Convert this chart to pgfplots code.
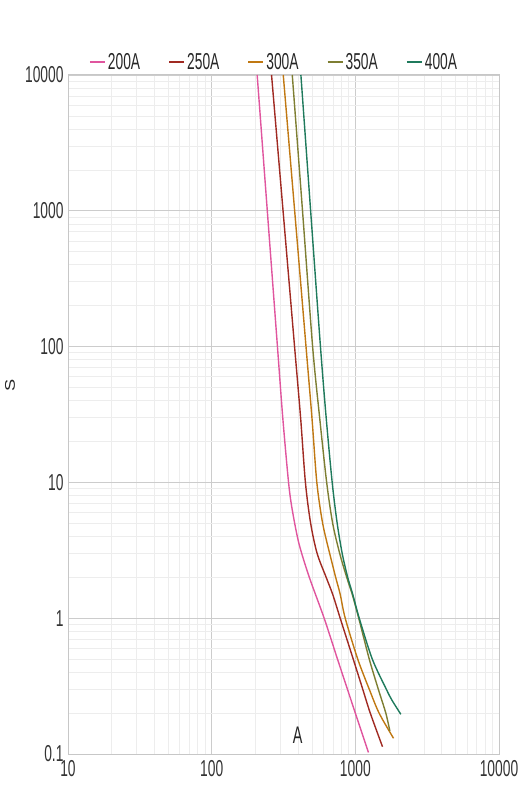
\documentclass[border=0pt]{standalone}
\usepackage{fontspec}
\setmainfont{Liberation Sans}[FakeStretch=0.6]
\newfontfamily\widefont{Liberation Sans}[FakeStretch=1.3]
\usepackage{pgfplots}
\pgfplotsset{compat=1.18}
\definecolor{c200}{HTML}{E0559E}
\definecolor{c250}{HTML}{A02A22}
\definecolor{c300}{HTML}{C07812}
\definecolor{c350}{HTML}{7E7E32}
\definecolor{c400}{HTML}{1F7A5C}
\begin{document}
\begin{tikzpicture}
\begin{axis}[
  xmode=log, ymode=log,
  scale only axis, width=431pt, height=679pt,
  xmin=10, xmax=10000, ymin=0.1, ymax=10000,
  xtick={10,100,1000,10000}, xticklabels={10,100,1000,10000},
  ytick={0.1,1,10,100,1000,10000}, yticklabels={0.1,1,10,100,1000,10000},
  grid=both,
  major grid style={color=black!20, line width=0.9pt},
  minor grid style={color=black!7, line width=0.7pt},
  axis line style={black!22, line width=1pt},
  tick style={draw=none},
  /pgf/number format/assume math mode=true,
  tick label style={font=\fontsize{23}{25}\selectfont, text=black!80},
  xticklabel style={yshift=-3pt},
  yticklabel style={xshift=-1pt},
  xlabel={A},
  every axis x label/.style={at={(rel axis cs:0.533,0.028)}, anchor=center, font=\fontsize{24}{26}\selectfont, text=black!85},
  ylabel={S},
  every axis y label/.style={at={(rel axis cs:0,0.543)}, xshift=-58pt, rotate=90, anchor=center, font=\widefont\fontsize{14}{16}\selectfont, text=black!85},
  legend columns=5,
  legend style={at={(rel axis cs:0.478,1)}, anchor=south, yshift=0pt, draw=none, fill=none,
    font=\fontsize{23}{25}\selectfont, text=black!85,
    /tikz/every even column/.append style={column sep=26pt}},
  legend image code/.code={\draw[#1, line width=2pt] (0pt,0pt) -- (15pt,0pt);},
]
\addplot[c200, line width=1.4pt, smooth, tension=0.5] coordinates {(207.4,10000) (243.9,1000) (287.0,100) (312.5,30) (342.9,10) (364.0,6.27) (404.7,3.56) (476.8,2.02) (606.7,1) (751.2,0.5) (881,0.3) (1000,0.2) (1234,0.1026)};
\addlegendentry{200A}
\addplot[c250, line width=1.4pt, smooth, tension=0.5] coordinates {(261.1,10000) (314.0,1000) (377.6,100) (415.9,30) (449.3,10) (488.5,5) (542.1,3) (626.6,2) (695.5,1.5) (784.6,1) (966.7,0.5) (1126,0.3) (1270.6,0.2) (1545.6,0.1132)};
\addlegendentry{250A}
\addplot[c300, line width=1.4pt, smooth, tension=0.5] coordinates {(315.0,10000) (378.2,1000) (453.6,100) (498.8,30) (539.5,10) (592.2,5) (662.9,3) (729.7,2) (784.6,1.5) (850.3,1) (1039.2,0.5) (1250,0.3) (1463.9,0.2) (1845,0.1305)};
\addlegendentry{300A}
\addplot[c350, line width=1.4pt, smooth, tension=0.5] coordinates {(364.0,10000) (428.9,1000) (504.3,100) (564.4,30) (631.6,10) (695.5,5) (778.3,3) (871,2) (951.5,1.5) (1056,1) (1250,0.5) (1445,0.3) (1630,0.2) (1739,0.1477)};
\addlegendentry{350A}
\addplot[c400, line width=1.4pt, smooth, tension=0.5] coordinates {(417.9,10000) (488.5,1000) (571.8,100) (626.6,30) (690,10) (747.6,5) (810,3) (885,2) (959.2,1.5) (1064.6,1) (1312,0.5) (1643,0.3) (1795,0.25) (2074,0.196)};
\addlegendentry{400A}
\coordinate (bl) at (rel axis cs:0,0);
\coordinate (tr) at (rel axis cs:1,1);
\end{axis}
\pgfresetboundingbox
\useasboundingbox ([shift={(-68pt,-46pt)}]bl) rectangle ([shift={(26pt,75pt)}]tr);
\end{tikzpicture}
\end{document}
